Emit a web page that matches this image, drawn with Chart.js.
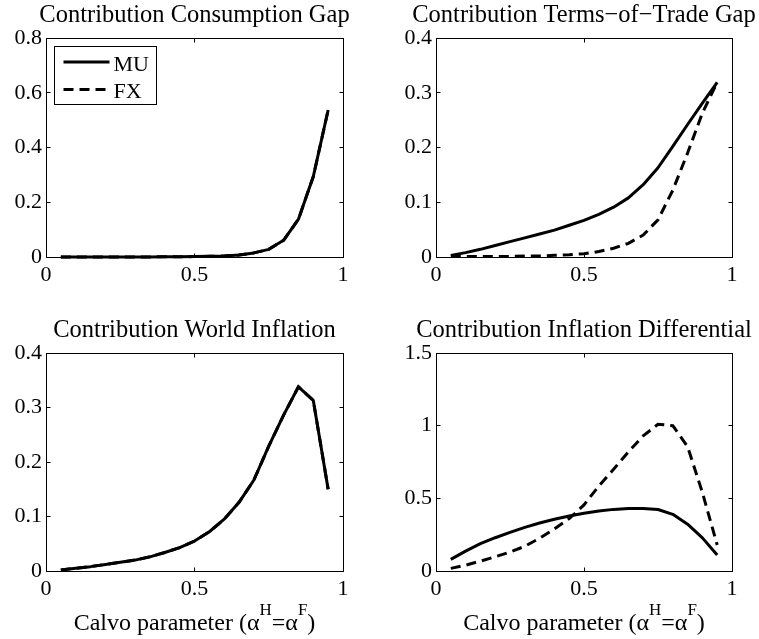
<!DOCTYPE html>
<html>
<head>
<meta charset="utf-8">
<script src="https://cdn.jsdelivr.net/npm/chart.js@4.4.1/dist/chart.umd.min.js"></script>
<style>
html,body{margin:0;padding:0;background:#fff;}
#wrap{position:relative;width:759px;height:639px;overflow:hidden;background:#fff;}
canvas{position:absolute;}
</style>
</head>
<body>
<div id="wrap">
<canvas id="c1" width="380" height="300" style="left:0;top:0"></canvas>
<canvas id="c2" width="379" height="300" style="left:380px;top:0"></canvas>
<canvas id="c3" width="380" height="329" style="left:0;top:310px"></canvas>
<canvas id="c4" width="379" height="329" style="left:380px;top:310px"></canvas>
</div>
<script>
// ---- data ----
const calvo = [0.05,0.10,0.15,0.20,0.25,0.30,0.35,0.40,0.45,0.50,0.55,0.60,0.65,0.70,0.75,0.80,0.85,0.90,0.95];
const xTickValues = [0, 0.5, 1];
const seriesNames = ['MU', 'FX'];

const consGapMU = [0,0,0,0,0.0001,0.0002,0.0004,0.0007,0.001,0.0015,0.0025,0.004,0.007,0.015,0.028,0.061,0.138,0.294,0.537];
const consGapFX = [0,0,0,0,0.0001,0.0002,0.0004,0.0007,0.001,0.0015,0.0025,0.004,0.007,0.015,0.028,0.061,0.138,0.294,0.537];
const consGapTicks = [0, 0.2, 0.4, 0.6, 0.8];

const totGapMU = [0.003,0.008,0.014,0.021,0.028,0.035,0.042,0.049,0.058,0.067,0.078,0.091,0.108,0.132,0.163,0.202,0.242,0.281,0.319];
const totGapFX = [0.001,0.001,0.001,0.001,0.001,0.002,0.002,0.003,0.004,0.006,0.010,0.016,0.025,0.040,0.068,0.122,0.190,0.263,0.319];
const totGapTicks = [0, 0.1, 0.2, 0.3, 0.4];

const worldInfMU = [0.002,0.005,0.008,0.012,0.016,0.020,0.026,0.034,0.043,0.055,0.072,0.095,0.126,0.167,0.229,0.286,0.338,0.313,0.150];
const worldInfFX = [0.002,0.005,0.008,0.012,0.016,0.020,0.026,0.034,0.043,0.055,0.072,0.095,0.126,0.167,0.229,0.286,0.338,0.313,0.150];
const worldInfTicks = [0, 0.1, 0.2, 0.3, 0.4];

const infDiffMU = [0.080,0.137,0.188,0.229,0.266,0.300,0.330,0.356,0.378,0.398,0.413,0.424,0.430,0.430,0.423,0.390,0.322,0.228,0.110];
const infDiffFX = [0.018,0.040,0.068,0.098,0.130,0.170,0.225,0.290,0.360,0.455,0.585,0.700,0.820,0.930,1.010,1.000,0.856,0.540,0.179];
const infDiffTicks = [0, 0.5, 1, 1.5];

const titles = [
  'Contribution Consumption Gap',
  'Contribution Terms\u2212of\u2212Trade Gap',
  'Contribution World Inflation',
  'Contribution Inflation Differential'
];
const xLabelParts = [
  {t: 'Calvo parameter (\u03B1', sup: false},
  {t: 'H', sup: true},
  {t: '=\u03B1', sup: false},
  {t: 'F', sup: true},
  {t: ')', sup: false}
];

// ---- styling ----
const FONT = '"Liberation Serif","Times New Roman",Times,serif';
const TICK_SIZE = 22;
const TITLE_SIZE = 24.5;
const LABEL_SIZE = 24;
const SUP_SIZE = 17;
const DASH = [10, 6];

const axesPlugin = {
  id: 'matlabAxes',
  beforeDatasetsDraw(chart) {
    const ctx = chart.ctx, ca = chart.chartArea;
    const l = Math.floor(ca.left) + 0.5, r = Math.floor(ca.right) + 0.5;
    const t = Math.floor(ca.top) + 0.5, b = Math.floor(ca.bottom) + 0.5;
    ctx.save();
    ctx.strokeStyle = '#000';
    ctx.lineWidth = 1;
    ctx.strokeRect(l, t, r - l, b - t);
    const TL = 4;
    ctx.beginPath();
    chart.scales.x.ticks.forEach(tk => {
      const px = Math.floor(chart.scales.x.getPixelForValue(tk.value)) + 0.5;
      ctx.moveTo(px, b); ctx.lineTo(px, b - TL);
      ctx.moveTo(px, t); ctx.lineTo(px, t + TL);
    });
    chart.scales.y.ticks.forEach(tk => {
      const py = Math.floor(chart.scales.y.getPixelForValue(tk.value)) + 0.5;
      ctx.moveTo(l, py); ctx.lineTo(l + TL, py);
      ctx.moveTo(r, py); ctx.lineTo(r - TL, py);
    });
    ctx.stroke();
    ctx.restore();
  },
  afterDraw(chart, args, opts) {
    const ctx = chart.ctx, ca = chart.chartArea;
    const cx = (ca.left + ca.right) / 2;
    ctx.save();
    ctx.fillStyle = '#000';
    // title
    ctx.font = TITLE_SIZE + 'px ' + FONT;
    ctx.textAlign = 'center';
    ctx.textBaseline = 'alphabetic';
    ctx.fillText(opts.title, cx, ca.top - 16);
    // x label with superscripts
    if (opts.xlabel) {
      ctx.textAlign = 'left';
      let total = 0;
      const widths = xLabelParts.map(p => {
        ctx.font = (p.sup ? SUP_SIZE : LABEL_SIZE) + 'px ' + FONT;
        const w = ctx.measureText(p.t).width;
        total += w;
        return w;
      });
      let x = cx - total / 2;
      const base = ca.bottom + 59;
      xLabelParts.forEach((p, i) => {
        ctx.font = (p.sup ? SUP_SIZE : LABEL_SIZE) + 'px ' + FONT;
        ctx.fillText(p.t, x, p.sup ? base - 15 : base);
        x += widths[i];
      });
    }
    // legend
    if (opts.legend) {
      const bx = Math.floor(ca.left + 8) + 0.5, by = Math.floor(ca.top + 8) + 0.5;
      const bw = 102, bh = 58;
      ctx.fillStyle = '#fff';
      ctx.fillRect(bx, by, bw, bh);
      ctx.strokeStyle = '#000';
      ctx.lineWidth = 1;
      ctx.strokeRect(bx, by, bw, bh);
      const rows = [by + 15.5, by + 43];
      chart.data.datasets.forEach((ds, i) => {
        ctx.save();
        ctx.strokeStyle = '#000';
        ctx.lineWidth = 3;
        ctx.setLineDash(ds.borderDash || []);
        ctx.beginPath();
        ctx.moveTo(bx + 9, rows[i]);
        ctx.lineTo(bx + 55, rows[i]);
        ctx.stroke();
        ctx.restore();
        ctx.fillStyle = '#000';
        ctx.font = TICK_SIZE + 'px ' + FONT;
        ctx.textAlign = 'left';
        ctx.textBaseline = 'alphabetic';
        ctx.fillText(ds.label, bx + 59, rows[i] + 8.5);
      });
    }
    ctx.restore();
  }
};

function makeChart(id, mu, fx, yTicks, cfg) {
  const pts = arr => calvo.map((x, i) => ({x: x, y: arr[i]}));
  return new Chart(document.getElementById(id), {
    type: 'line',
    data: {
      datasets: [
        {label: seriesNames[0], data: pts(mu), borderColor: '#000', borderWidth: 3, pointRadius: 0, tension: 0, clip: false, fill: false, borderJoinStyle: 'round'},
        {label: seriesNames[1], data: pts(fx), borderColor: '#000', borderWidth: 3, pointRadius: 0, tension: 0, clip: false, fill: false, borderDash: DASH}
      ]
    },
    options: {
      responsive: false,
      animation: false,
      devicePixelRatio: 1,
      events: [],
      layout: {padding: cfg.padding},
      plugins: {
        legend: {display: false},
        tooltip: {enabled: false},
        title: {display: false},
        matlabAxes: {title: cfg.title, xlabel: cfg.xlabel, legend: cfg.legend}
      },
      scales: {
        x: {
          type: 'linear', min: 0, max: 1,
          afterBuildTicks: s => { s.ticks = xTickValues.map(v => ({value: v})); },
          ticks: {color: '#000', font: {family: FONT, size: TICK_SIZE}, padding: 5, maxRotation: 0, autoSkip: false, callback: v => String(v)},
          grid: {display: false, drawTicks: false},
          border: {display: false},
          afterFit: s => { s.height = 40; }
        },
        y: {
          type: 'linear', min: yTicks[0], max: yTicks[yTicks.length - 1],
          afterBuildTicks: s => { s.ticks = yTicks.map(v => ({value: v})); },
          ticks: {color: '#000', font: {family: FONT, size: TICK_SIZE}, padding: 4, autoSkip: false, callback: v => String(v)},
          grid: {display: false, drawTicks: false},
          border: {display: false},
          afterFit: s => { s.width = cfg.yw; }
        }
      }
    },
    plugins: [axesPlugin]
  });
}

makeChart('c1', consGapMU, consGapFX, consGapTicks, {title: titles[0], legend: true, xlabel: false, yw: 46, padding: {left: 0, top: 38, right: 37, bottom: 3}});
makeChart('c2', totGapMU, totGapFX, totGapTicks, {title: titles[1], legend: false, xlabel: false, yw: 56, padding: {left: 0, top: 38, right: 27, bottom: 3}});
makeChart('c3', worldInfMU, worldInfFX, worldInfTicks, {title: titles[2], legend: false, xlabel: true, yw: 46, padding: {left: 0, top: 43, right: 37, bottom: 28}});
makeChart('c4', infDiffMU, infDiffFX, infDiffTicks, {title: titles[3], legend: false, xlabel: true, yw: 56, padding: {left: 0, top: 43, right: 27, bottom: 28}});
</script>
</body>
</html>
